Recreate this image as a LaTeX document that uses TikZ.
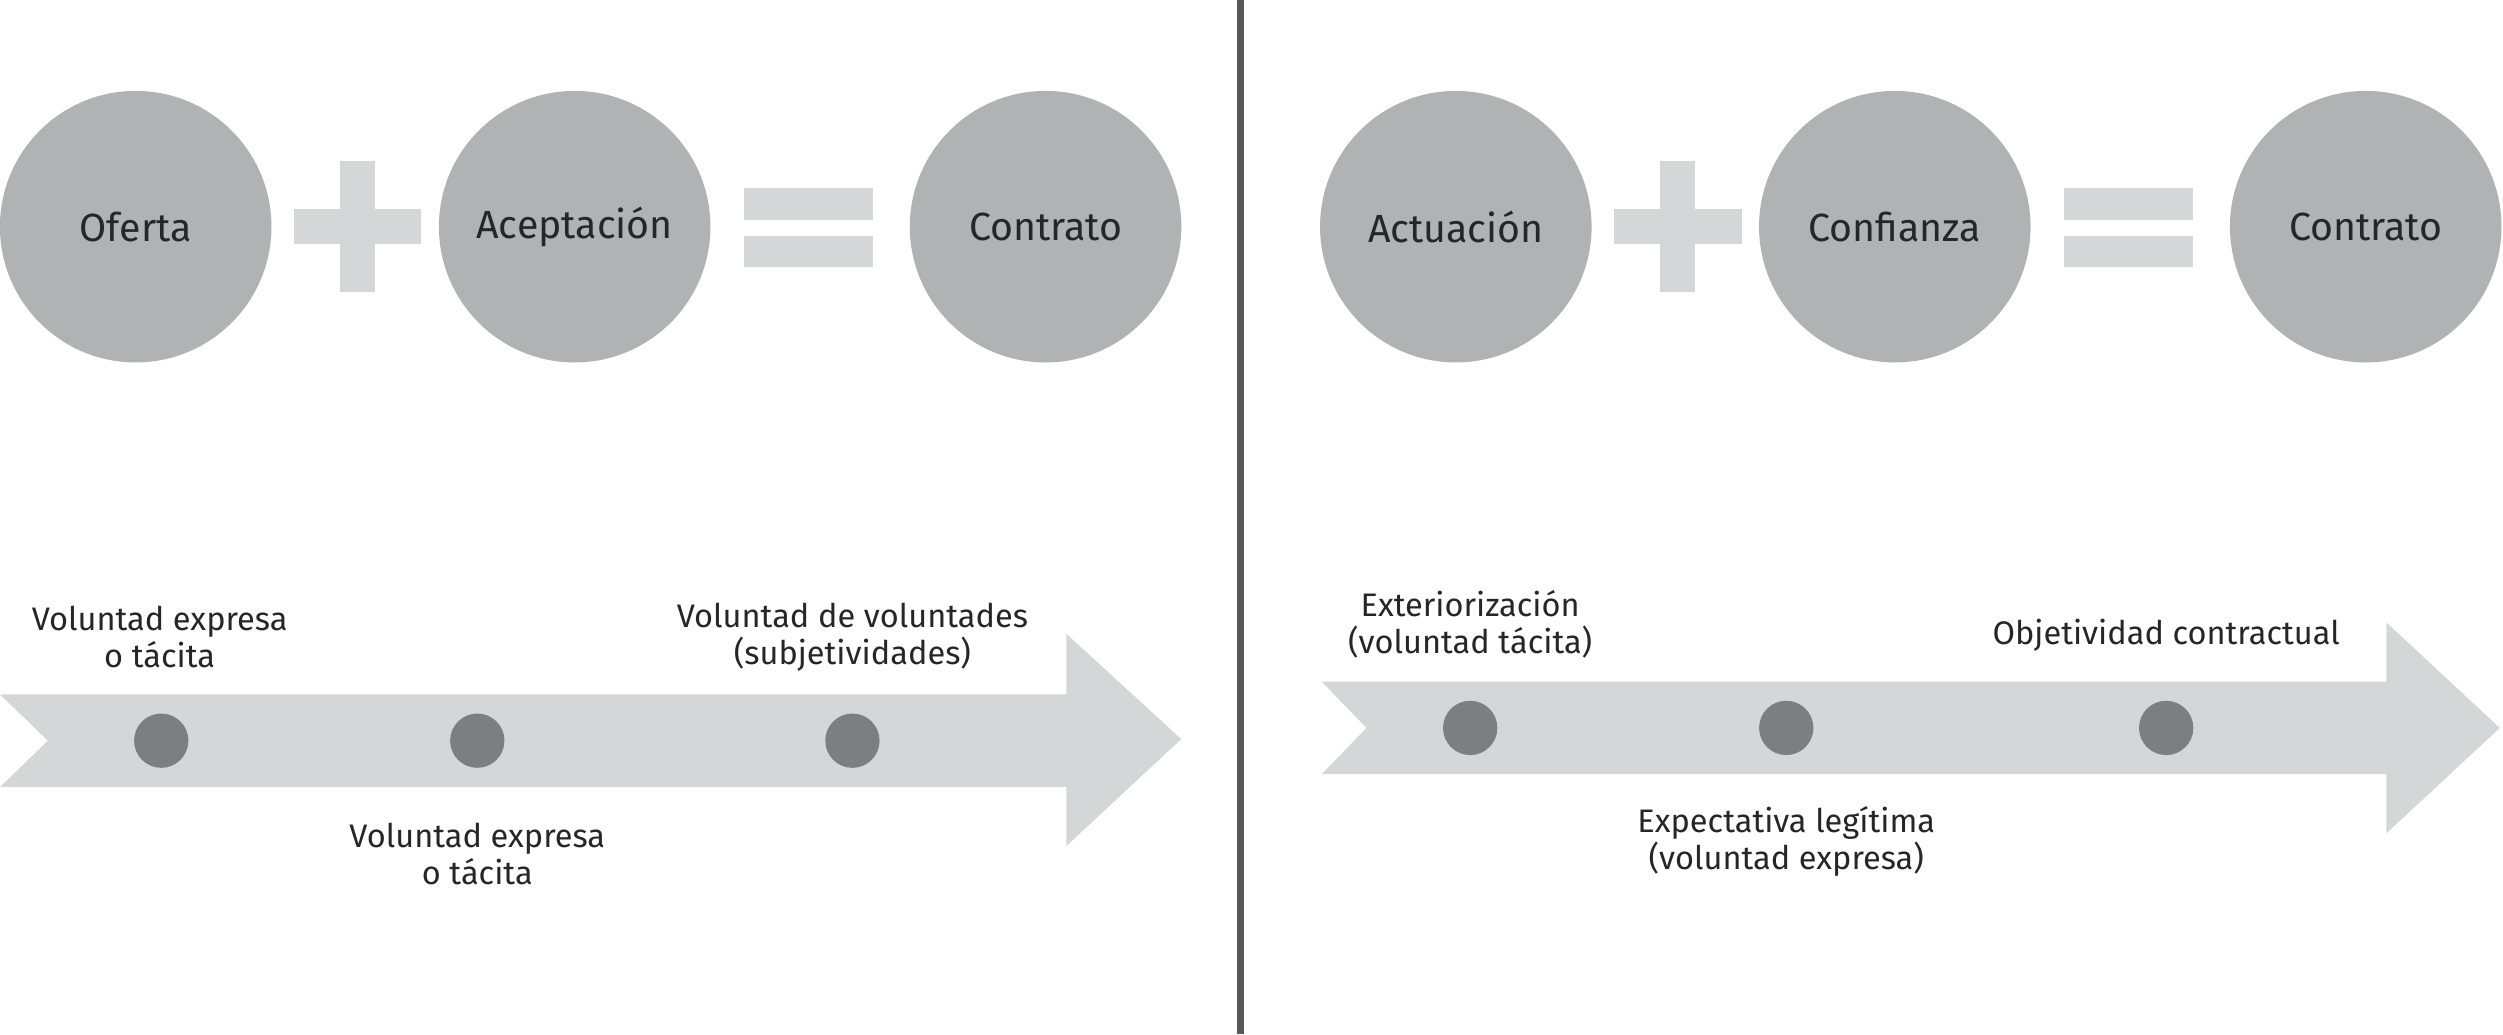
\documentclass[tikz,border=0pt]{standalone}
\usepackage{fontspec}
\setmainfont{Fira Sans}
\definecolor{circgray}{HTML}{B1B2B4}
\definecolor{signgray}{HTML}{D5D6D8}
\definecolor{dotgray}{HTML}{7D7E80}
\tikzset{
  term/.style={circle,fill=circgray,minimum size=1.7cm,inner sep=0pt,font=\fontsize{7}{8}\selectfont,text=black!85},
  dot/.style={circle,fill=dotgray,minimum size=0.34cm,inner sep=0pt},
  lbl/.style={align=center,font=\fontsize{5.8}{6.6}\selectfont,text=black!85},
  sign/.style={fill=signgray}
}
\begin{document}
\begin{tikzpicture}[x=0.01cm,y=-0.01cm]
        \useasboundingbox (0,0) rectangle (1568,648);

        % left side
        \node[term] (oferta) at (85,142) {Oferta};
        \node[term] (acept) at (360,142) {Aceptación};
        \node[term] (contratoA) at (655,142) {Contrato};
        \fill[sign] (184,131) rectangle (264,153);
        \fill[sign] (213,101) rectangle (235,183);
        \fill[sign] (466,118) rectangle (547,138);
        \fill[sign] (466,148) rectangle (547,167);

        \fill[signgray] (0,435) -- (668,435) -- (668,397) -- (740,463) -- (668,530)
            -- (668,493) -- (0,493) -- (30,464) -- cycle;
        \node[dot] (dA) at (101,464) {};
        \node[dot] (dB) at (299,464) {};
        \node[dot] (dC) at (534,464) {};
        \node[lbl] (lA) at (100,399) {Voluntad expresa\\o tácita};
        \node[lbl] (lB) at (299,535) {Voluntad expresa\\o tácita};
        \node[lbl] (lC) at (534,399) {Voluntad de voluntades\\(subjetividades)};

        % divider
        \draw[black!65,line width=1.2pt] (777,0) -- (777,648);

        % right side
        \node[term] (actua) at (912,142) {Actuación};
        \node[term] (confi) at (1187,142) {Confianza};
        \node[term] (contratoB) at (1482,142) {Contrato};
        \fill[sign] (1011,131) rectangle (1091,153);
        \fill[sign] (1040,101) rectangle (1062,183);
        \fill[sign] (1293,118) rectangle (1374,138);
        \fill[sign] (1293,148) rectangle (1374,167);

        \fill[signgray] (828,427) -- (1495,427) -- (1495,390) -- (1566,456) -- (1495,522)
            -- (1495,485) -- (828,485) -- (856,456) -- cycle;
        \node[dot] (dD) at (921,456) {};
        \node[dot] (dE) at (1119,456) {};
        \node[dot] (dF) at (1357,456) {};
        \node[lbl] (lD) at (921,391) {Exteriorización\\(voluntad tácita)};
        \node[lbl] (lE) at (1119,527) {Expectativa legítima\\(voluntad expresa)};
        \node[lbl] (lF) at (1357,398) {Objetividad contractual};
\end{tikzpicture}
\end{document}
